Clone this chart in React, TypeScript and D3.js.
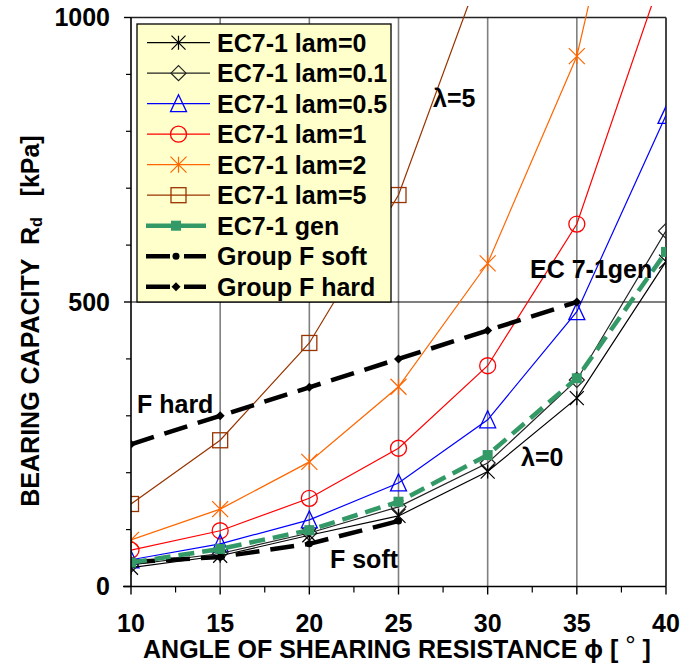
import React from "react";
import * as d3 from "d3";

const phi = [10, 15, 20, 25, 30, 35, 40];
const lam0 = [33, 54, 90, 124, 202, 331, 571];
const lam01 = [38, 58, 94, 140, 217, 363, 625];
const lam05 = [47, 75, 117, 182, 293, 483, 828];
const lam1 = [64, 98, 155, 243, 388, 637, 1095];
const lam2 = [82, 136, 219, 351, 568, 932, 1610];
const lam5 = [145, 257, 428, 688, 1115];
const gen = [42, 66, 99, 149, 231, 366, 588];
const fSoft = [43, 52, 75, 115];
const fHard = [250, 300, 350, 400, 450, 500];

const xTicks = [10, 15, 20, 25, 30, 35, 40];
const xMinor = [12.5, 17.5, 22.5, 27.5, 32.5, 37.5];
const yTicks = [0, 500, 1000];
const yMinor = [100, 200, 300, 400, 600, 700, 800, 900];

type Series = {
  name: string;
  values: number[];
  color: string;
  width: number;
  dash?: string;
  marker: string;
  msize: number;
};

const series: Series[] = [
  { name: "EC7-1 lam=5", values: lam5, color: "#993300", width: 1.2, marker: "square", msize: 15 },
  { name: "EC7-1 lam=2", values: lam2, color: "#FF6600", width: 1.2, marker: "star", msize: 16 },
  { name: "EC7-1 lam=1", values: lam1, color: "#FF0000", width: 1.2, marker: "circle", msize: 16 },
  { name: "EC7-1 lam=0.5", values: lam05, color: "#0000FF", width: 1.2, marker: "triangle", msize: 16 },
  { name: "EC7-1 lam=0.1", values: lam01, color: "#222222", width: 1.2, marker: "diamond", msize: 15 },
  { name: "EC7-1 lam=0", values: lam0, color: "#000000", width: 1.2, marker: "star", msize: 14 },
  { name: "Group F soft", values: fSoft, color: "#000000", width: 4.5, dash: "24 11", marker: "dot", msize: 7 },
  { name: "Group F hard", values: fHard, color: "#000000", width: 4.5, dash: "24 11", marker: "fdiamond", msize: 9 },
  { name: "EC7-1 gen", values: gen, color: "#339966", width: 4.5, dash: "16 8", marker: "fsquare", msize: 10 },
];

const legendOrder = [
  "EC7-1 lam=0",
  "EC7-1 lam=0.1",
  "EC7-1 lam=0.5",
  "EC7-1 lam=1",
  "EC7-1 lam=2",
  "EC7-1 lam=5",
  "EC7-1 gen",
  "Group F soft",
  "Group F hard",
];

const x = d3.scaleLinear().domain([10, 40]).range([131, 666]);
const y = d3.scaleLinear().domain([0, 1000]).range([586.5, 17.5]);

function Marker({ type, cx, cy, s, color }: { type: string; cx: number; cy: number; s: number; color: string }) {
  const h = s / 2;
  switch (type) {
    case "square":
      return <rect x={cx - h} y={cy - h} width={s} height={s} fill="none" stroke={color} strokeWidth={1.3} />;
    case "fsquare":
      return <rect x={cx - h} y={cy - h} width={s} height={s} fill={color} stroke="none" />;
    case "circle":
      return <circle cx={cx} cy={cy} r={h} fill="none" stroke={color} strokeWidth={1.3} />;
    case "dot":
      return <circle cx={cx} cy={cy} r={h} fill={color} />;
    case "triangle":
      return (
        <path
          d={`M${cx},${cy - h - 1}L${cx + h},${cy + h}L${cx - h},${cy + h}Z`}
          fill="none"
          stroke={color}
          strokeWidth={1.3}
        />
      );
    case "diamond":
      return (
        <path d={`M${cx},${cy - h}L${cx + h},${cy}L${cx},${cy + h}L${cx - h},${cy}Z`} fill="none" stroke={color} strokeWidth={1.2} />
      );
    case "fdiamond":
      return <path d={`M${cx},${cy - h}L${cx + h},${cy}L${cx},${cy + h}L${cx - h},${cy}Z`} fill={color} />;
    case "star":
      return (
        <path
          d={`M${cx - h},${cy - h}L${cx + h},${cy + h}M${cx - h},${cy + h}L${cx + h},${cy - h}M${cx},${cy - h}L${cx},${cy + h}`}
          stroke={color}
          strokeWidth={1.2}
          fill="none"
        />
      );
    default:
      return null;
  }
}

export default function App() {
  const font = "'Liberation Sans', Arial, Helvetica, sans-serif";
  const line = d3
    .line<number>()
    .x((_, i) => x(phi[i]))
    .y((v) => y(v));
  const legendX = 137;
  const legendY = 24;
  const rowH = 30.5;
  return (
    <svg
      width={694}
      height={664}
      style={{ position: "absolute", left: 0, top: 0, background: "#fff" }}
      fontFamily={font}
      fontWeight="bold"
    >
      <defs>
        <clipPath id="clip">
          <rect x={131} y={6} width={535} height={581} />
        </clipPath>
      </defs>
      {/* grid */}
      {xTicks.slice(1, -1).map((t) => (
        <line key={t} x1={x(t)} x2={x(t)} y1={y(1000)} y2={y(0)} stroke="#7f7f7f" strokeWidth={1.6} />
      ))}
      <line x1={x(10)} x2={x(40)} y1={y(500)} y2={y(500)} stroke="#000" strokeWidth={1.2} />
      {/* frame */}
      <line x1={x(10)} x2={x(40)} y1={y(1000)} y2={y(1000)} stroke="#222" strokeWidth={1.6} />
      <line x1={x(40)} x2={x(40)} y1={y(1000)} y2={y(0)} stroke="#333" strokeWidth={1.8} />

      {/* series */}
      <g clipPath="url(#clip)">
        {series.map((s) => (
          <g key={s.name}>
            <path d={line(s.values) || ""} fill="none" stroke={s.color} strokeWidth={s.width} strokeDasharray={s.dash} />
            {s.values.map((v, i) =>
              v <= 1000 ? (
                <Marker key={i} type={s.marker} cx={x(phi[i])} cy={y(v)} s={s.msize} color={s.color} />
              ) : null
            )}
          </g>
        ))}
      </g>

      {/* axes */}
      <line x1={x(10)} x2={x(10)} y1={y(1000)} y2={y(0)} stroke="#000" strokeWidth={1.6} />
      <line x1={123} x2={x(40)} y1={y(0)} y2={y(0)} stroke="#000" strokeWidth={1.6} />
      {yTicks.map((t) => (
        <g key={t}>
          <line x1={124} x2={x(10)} y1={y(t)} y2={y(t)} stroke="#000" strokeWidth={1.4} />
          <text x={110} y={y(t)} dy="0.35em" textAnchor="end" fontSize={25}>
            {t}
          </text>
        </g>
      ))}
      {yMinor.map((t) => (
        <line key={t} x1={126} x2={x(10)} y1={y(t)} y2={y(t)} stroke="#000" strokeWidth={1.2} />
      ))}
      {xTicks.map((t) => (
        <g key={t}>
          <line x1={x(t)} x2={x(t)} y1={y(0)} y2={y(0) + 8} stroke="#000" strokeWidth={1.4} />
          <text x={x(t)} y={632} textAnchor="middle" fontSize={25}>
            {t}
          </text>
        </g>
      ))}
      {xMinor.map((t) => (
        <line key={t} x1={x(t)} x2={x(t)} y1={y(0)} y2={y(0) + 6} stroke="#000" strokeWidth={1.2} />
      ))}

      {/* axis titles */}
      <text x={397} y={658} textAnchor="middle" fontSize={25} style={{ whiteSpace: "pre" }}>
        {"ANGLE OF SHEARING RESISTANCE ϕ [ "}
        <tspan dy={-4} fontSize={26} fontWeight="normal">°</tspan>
        <tspan dy={4}>{" ]"}</tspan>
      </text>
      <text transform="translate(39,321) rotate(-90)" textAnchor="middle" fontSize={25} style={{ whiteSpace: "pre" }}>
        {"BEARING CAPACITY  R"}
        <tspan fontSize={16} dy={3}>d</tspan>
        <tspan dy={-3}>{"   [kPa]"}</tspan>
      </text>

      {/* annotations */}
      <text x={433} y={107} fontSize={25}>λ=5</text>
      <text x={530} y={278} fontSize={25}>EC 7-1gen</text>
      <text x={521} y={466} fontSize={25}>λ=0</text>
      <text x={137} y={413} fontSize={25}>F hard</text>
      <text x={330} y={568} fontSize={25}>F soft</text>

      {/* legend */}
      <rect x={legendX} y={legendY} width={254} height={278} fill="#FFFFCC" stroke="#000" strokeWidth={1.3} />
      {legendOrder.map((n, i) => {
        const s = series.find((q) => q.name === n)!;
        const cy = legendY + 18.7 + i * rowH;
        const thick = s.width > 3;
        return (
          <g key={n}>
            <line
              x1={thick ? 146 : 147}
              x2={thick ? 206 : 210}
              y1={cy}
              y2={cy}
              stroke={s.color}
              strokeWidth={s.width}
              strokeDasharray={s.marker === "fsquare" ? undefined : s.dash ? "24 14" : undefined}
            />
            <Marker type={s.marker} cx={thick ? 176 : 178.5} cy={cy} s={s.msize} color={s.color} />
            <text x={217} y={cy} dy="0.36em" fontSize={25}>
              {n}
            </text>
          </g>
        );
      })}
    </svg>
  );
}
